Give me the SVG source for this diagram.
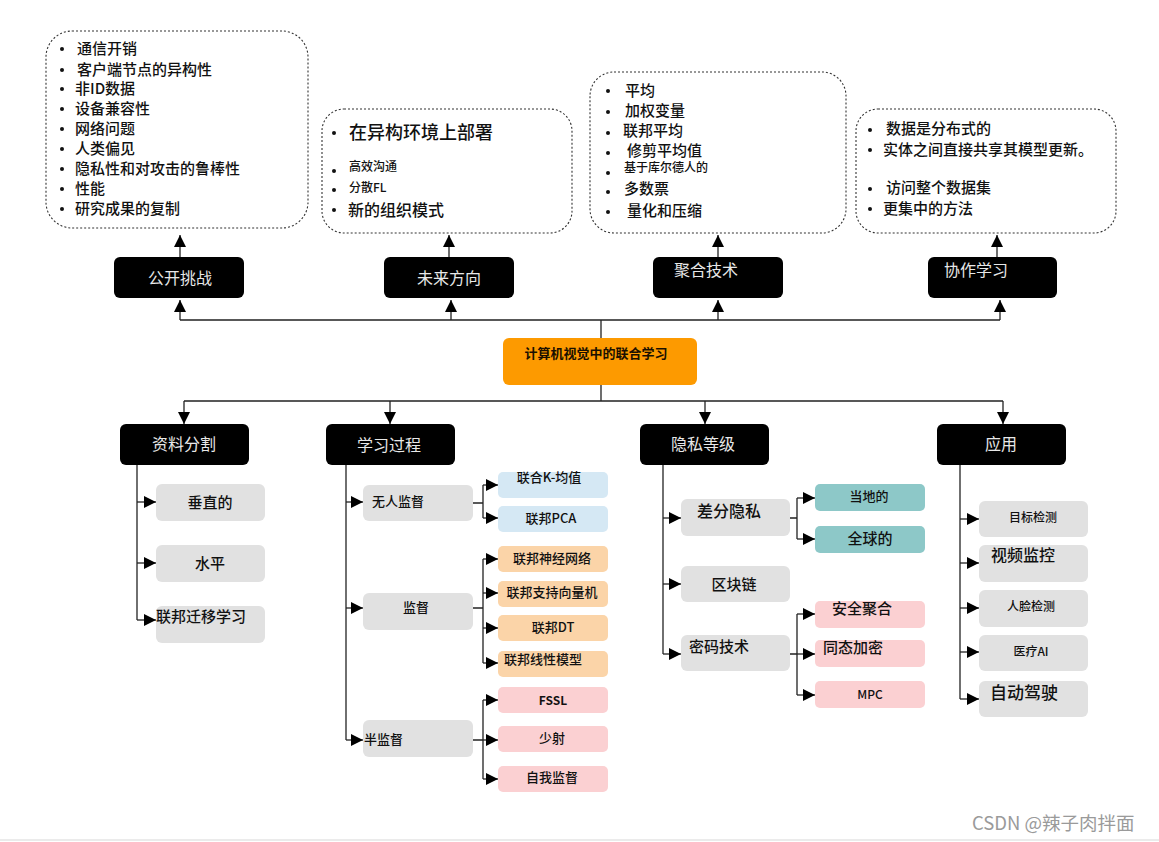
<svg xmlns="http://www.w3.org/2000/svg" width="1159" height="842" viewBox="0 0 1159 842">
  <style>
    text { font-family: "Noto Sans CJK SC", "Noto Sans", "Liberation Sans", sans-serif; fill: #111; font-weight: 500; }
    .note { fill: #fff; stroke: #333; stroke-width: 1.1; stroke-dasharray: 2 2; }
    .head { fill: #000; }
    .head-t { fill: #e8e8e8; font-size: 16px; text-anchor: middle; font-weight: 400; }
    .bold { font-weight: 700; }
    .gray { fill: #e1e1e1; }
    .blue { fill: #d5e8f4; }
    .orange { fill: #fbd4a8; }
    .pink { fill: #fbd0d2; }
    .teal { fill: #8dc8c8; }
    .c { text-anchor: middle; }
    .line { fill: none; stroke: #222; stroke-width: 1.3; }
    .arr { fill: none; stroke: #222; stroke-width: 1.3; marker-end: url(#tip); }
    .dot { fill: #111; }
  </style>
  <defs>
    <marker id="tip" markerUnits="userSpaceOnUse" markerWidth="12" markerHeight="12" refX="10" refY="5" orient="auto" viewBox="0 0 10 10">
      <path d="M0,0 L10,5 L0,10 z" fill="#000"/>
    </marker>
  </defs>

  <rect width="1159" height="842" fill="#fff"/>

  <!-- connectors -->
  <g id="connectors">
    <!-- upper tree -->
    <path class="line" d="M601,338 V320 M180,320 H1000"/>
    <path class="arr" d="M180,320 V300"/>
    <path class="arr" d="M451,320 V300"/>
    <path class="arr" d="M718,320 V300"/>
    <path class="arr" d="M1000,320 V300"/>
    <path class="arr" d="M180,257 V235"/>
    <path class="arr" d="M449,257 V235"/>
    <path class="arr" d="M718,257 V235"/>
    <path class="arr" d="M997,257 V235"/>
    <!-- lower tree -->
    <path class="line" d="M601,385 V401 M184,401 H1003"/>
    <path class="arr" d="M184,401 V424"/>
    <path class="arr" d="M390,401 V424"/>
    <path class="arr" d="M705,401 V424"/>
    <path class="arr" d="M1003,401 V424"/>
    <!-- data partition -->
    <path class="line" d="M137,465 V620"/>
    <path class="arr" d="M137,502 H156"/>
    <path class="arr" d="M137,563 H156"/>
    <path class="arr" d="M137,620 H156"/>
    <!-- learning process -->
    <path class="line" d="M346,465 V740"/>
    <path class="arr" d="M346,502 H363"/>
    <path class="arr" d="M346,608 H363"/>
    <path class="arr" d="M346,740 H363"/>
    <path class="line" d="M473,503 H483 M483,485 V518"/>
    <path class="arr" d="M483,485 H498"/>
    <path class="arr" d="M483,518 H498"/>
    <path class="line" d="M473,608 H483 M483,559 V663"/>
    <path class="arr" d="M483,559 H498"/>
    <path class="arr" d="M483,593 H498"/>
    <path class="arr" d="M483,628 H498"/>
    <path class="arr" d="M483,663 H498"/>
    <path class="line" d="M473,740 H483 M483,700 V779"/>
    <path class="arr" d="M483,700 H498"/>
    <path class="arr" d="M483,740 H498"/>
    <path class="arr" d="M483,779 H498"/>
    <!-- privacy level -->
    <path class="line" d="M663,465 V654"/>
    <path class="arr" d="M663,518 H681"/>
    <path class="arr" d="M663,584 H681"/>
    <path class="arr" d="M663,654 H681"/>
    <path class="line" d="M790,518 H797 M797,498 V539"/>
    <path class="arr" d="M797,498 H815"/>
    <path class="arr" d="M797,539 H815"/>
    <path class="line" d="M790,654 H797 M797,614 V695"/>
    <path class="arr" d="M797,614 H815"/>
    <path class="arr" d="M797,654 H815"/>
    <path class="arr" d="M797,695 H815"/>
    <!-- applications -->
    <path class="line" d="M960,465 V699"/>
    <path class="arr" d="M960,519 H979"/>
    <path class="arr" d="M960,563 H979"/>
    <path class="arr" d="M960,608 H979"/>
    <path class="arr" d="M960,652 H979"/>
    <path class="arr" d="M960,699 H979"/>
  </g>

  <!-- note boxes -->
  <g id="note-challenges">
    <rect class="note" x="46" y="31" width="262" height="197" rx="26"/>
    <g font-size="15">
      <circle class="dot" cx="62" cy="49" r="2"/><text x="77" y="54">通信开销</text>
      <circle class="dot" cx="62" cy="70" r="2"/><text x="77" y="75">客户端节点的异构性</text>
      <circle class="dot" cx="62" cy="89" r="2"/><text x="75" y="94">非ID数据</text>
      <circle class="dot" cx="62" cy="109" r="2"/><text x="75" y="114">设备兼容性</text>
      <circle class="dot" cx="62" cy="129" r="2"/><text x="75" y="134">网络问题</text>
      <circle class="dot" cx="62" cy="149" r="2"/><text x="75" y="154">人类偏见</text>
      <circle class="dot" cx="62" cy="169" r="2"/><text x="75" y="174">隐私性和对攻击的鲁棒性</text>
      <circle class="dot" cx="62" cy="189" r="2"/><text x="75" y="194">性能</text>
      <circle class="dot" cx="62" cy="209" r="2"/><text x="75" y="214">研究成果的复制</text>
    </g>
  </g>
  <g id="note-future">
    <rect class="note" x="322" y="109" width="250" height="124" rx="22"/>
    <circle class="dot" cx="334" cy="133" r="2"/><text x="349" y="139" font-size="18">在异构环境上部署</text>
    <circle class="dot" cx="334" cy="171" r="2"/><text x="349" y="171" font-size="12">高效沟通</text>
    <circle class="dot" cx="334" cy="190" r="2"/><text x="349" y="192" font-size="12">分散FL</text>
    <circle class="dot" cx="334" cy="210" r="2"/><text x="348" y="216" font-size="16">新的组织模式</text>
  </g>
  <g id="note-aggregation">
    <rect class="note" x="590" y="72" width="256" height="161" rx="24"/>
    <g font-size="15">
      <circle class="dot" cx="608" cy="91" r="2"/><text x="625" y="96">平均</text>
      <circle class="dot" cx="608" cy="112" r="2"/><text x="625" y="116">加权变量</text>
      <circle class="dot" cx="608" cy="133" r="2"/><text x="623" y="136">联邦平均</text>
      <circle class="dot" cx="608" cy="153" r="2"/><text x="627" y="156">修剪平均值</text>
      <circle class="dot" cx="608" cy="173" r="2"/><text x="624" y="172" font-size="12">基于库尔德人的</text>
      <circle class="dot" cx="608" cy="192" r="2"/><text x="624" y="194">多数票</text>
      <circle class="dot" cx="608" cy="212" r="2"/><text x="627" y="216">量化和压缩</text>
    </g>
  </g>
  <g id="note-collab">
    <rect class="note" x="856" y="109" width="260" height="124" rx="22"/>
    <g font-size="15">
      <circle class="dot" cx="870" cy="130" r="2"/><text x="886" y="134">数据是分布式的</text>
      <circle class="dot" cx="870" cy="150" r="2"/><text x="883" y="155">实体之间直接共享其模型更新。</text>
      <circle class="dot" cx="870" cy="189" r="2"/><text x="886" y="193">访问整个数据集</text>
      <circle class="dot" cx="870" cy="209" r="2"/><text x="883" y="214">更集中的方法</text>
    </g>
  </g>

  <!-- top category nodes -->
  <g id="open-challenges"><rect class="head" x="114" y="257" width="130" height="41" rx="6"/><text class="head-t" x="180" y="284">公开挑战</text></g>
  <g id="future-directions"><rect class="head" x="384" y="257" width="130" height="41" rx="6"/><text class="head-t" x="449" y="284">未来方向</text></g>
  <g id="aggregation"><rect class="head" x="653" y="257" width="130" height="41" rx="6"/><text class="head-t" x="706" y="276">聚合技术</text></g>
  <g id="collaborative"><rect class="head" x="928" y="257" width="129" height="41" rx="6"/><text class="head-t" x="976" y="276">协作学习</text></g>

  <!-- root -->
  <g id="root">
    <rect x="503" y="338" width="194" height="47" rx="6" fill="#fd9a00"/>
    <text x="596" y="358" font-size="13" class="c bold" style="fill:#1a1000">计算机视觉中的联合学习</text>
  </g>

  <!-- bottom category nodes -->
  <g id="data-partition"><rect class="head" x="120" y="424" width="129" height="41" rx="6"/><text class="head-t" x="184" y="450">资料分割</text></g>
  <g id="learning-process"><rect class="head" x="326" y="424" width="129" height="41" rx="6"/><text class="head-t" x="389" y="451" font-size="18">学习过程</text></g>
  <g id="privacy-level"><rect class="head" x="640" y="424" width="129" height="41" rx="6"/><text class="head-t" x="703" y="450">隐私等级</text></g>
  <g id="applications"><rect class="head" x="937" y="424" width="129" height="41" rx="6"/><text class="head-t" x="1001" y="450">应用</text></g>

  <!-- data partition leaves -->
  <g id="vertical"><rect class="gray" x="156" y="484" width="109" height="37" rx="6"/><text class="c" x="210" y="508" font-size="15">垂直的</text></g>
  <g id="horizontal"><rect class="gray" x="156" y="545" width="109" height="37" rx="6"/><text class="c" x="210" y="569" font-size="15">水平</text></g>
  <g id="transfer"><rect class="gray" x="156" y="606" width="109" height="37" rx="6"/><text x="156" y="622" font-size="15">联邦迁移学习</text></g>

  <!-- learning process -->
  <g id="unsupervised"><rect class="gray" x="363" y="485" width="110" height="36" rx="6"/><text x="372" y="506" font-size="13">无人监督</text></g>
  <g id="supervised"><rect class="gray" x="363" y="593" width="110" height="37" rx="6"/><text class="c" x="416" y="612" font-size="13">监督</text></g>
  <g id="semi-supervised"><rect class="gray" x="363" y="720" width="110" height="37" rx="6"/><text x="364" y="744" font-size="13">半监督</text></g>

  <g id="fed-kmeans"><rect class="blue" x="498" y="472" width="110" height="26" rx="5"/><text class="c" x="549" y="482" font-size="13">联合K-均值</text></g>
  <g id="fed-pca"><rect class="blue" x="498" y="506" width="110" height="26" rx="5"/><text class="c" x="551" y="523" font-size="13">联邦PCA</text></g>
  <g id="fed-nn"><rect class="orange" x="498" y="546" width="110" height="26" rx="5"/><text class="c" x="552" y="563" font-size="13">联邦神经网络</text></g>
  <g id="fed-svm"><rect class="orange" x="498" y="581" width="110" height="26" rx="5"/><text class="c" x="552" y="597" font-size="13">联邦支持向量机</text></g>
  <g id="fed-dt"><rect class="orange" x="498" y="615" width="110" height="26" rx="5"/><text class="c" x="553" y="632" font-size="13">联邦DT</text></g>
  <g id="fed-linear"><rect class="orange" x="498" y="651" width="110" height="26" rx="5"/><text class="c" x="543" y="664" font-size="13">联邦线性模型</text></g>
  <g id="fssl"><rect class="pink" x="498" y="687" width="110" height="26" rx="5"/><text class="c bold" x="553" y="705" font-size="12">FSSL</text></g>
  <g id="few-shot"><rect class="pink" x="498" y="726" width="110" height="26" rx="5"/><text class="c" x="552" y="743" font-size="13">少射</text></g>
  <g id="self-supervised"><rect class="pink" x="498" y="766" width="110" height="26" rx="5"/><text class="c" x="552" y="782" font-size="13">自我监督</text></g>

  <!-- privacy level -->
  <g id="diff-privacy"><rect class="gray" x="681" y="499" width="109" height="37" rx="6"/><text x="697" y="517" font-size="16">差分隐私</text></g>
  <g id="blockchain"><rect class="gray" x="681" y="566" width="109" height="36" rx="6"/><text class="c" x="734" y="590" font-size="15">区块链</text></g>
  <g id="crypto"><rect class="gray" x="681" y="635" width="109" height="36" rx="6"/><text x="689" y="652" font-size="15">密码技术</text></g>

  <g id="local"><rect class="teal" x="815" y="484" width="110" height="27" rx="5"/><text class="c" x="869" y="501" font-size="13">当地的</text></g>
  <g id="global"><rect class="teal" x="815" y="526" width="110" height="27" rx="5"/><text class="c" x="870" y="544" font-size="15">全球的</text></g>
  <g id="secure-agg"><rect class="pink" x="815" y="601" width="110" height="27" rx="5"/><text class="c" x="862" y="614" font-size="15">安全聚合</text></g>
  <g id="homomorphic"><rect class="pink" x="815" y="640" width="110" height="27" rx="5"/><text x="823" y="653" font-size="15">同态加密</text></g>
  <g id="mpc"><rect class="pink" x="815" y="681" width="110" height="27" rx="5"/><text class="c" x="870" y="699" font-size="12">MPC</text></g>

  <!-- applications -->
  <g id="object-detection"><rect class="gray" x="979" y="501" width="109" height="36" rx="6"/><text class="c" x="1033" y="522" font-size="12">目标检测</text></g>
  <g id="video-surveillance"><rect class="gray" x="979" y="545" width="109" height="37" rx="6"/><text x="991" y="561" font-size="16">视频监控</text></g>
  <g id="face-detection"><rect class="gray" x="979" y="590" width="109" height="37" rx="6"/><text class="c" x="1031" y="611" font-size="12">人脸检测</text></g>
  <g id="medical-ai"><rect class="gray" x="979" y="635" width="109" height="36" rx="6"/><text class="c" x="1031" y="656" font-size="12">医疗AI</text></g>
  <g id="autonomous-driving"><rect class="gray" x="979" y="681" width="109" height="36" rx="6"/><text x="990" y="699" font-size="17">自动驾驶</text></g>

  <!-- footer -->
  <text x="972" y="830" font-size="18.5" style="fill:#9a9a9a; font-weight:400">CSDN @辣子肉拌面</text>
  <line x1="0" y1="840" x2="1159" y2="840" stroke="#e4e4e4" stroke-width="1.5"/>
</svg>
